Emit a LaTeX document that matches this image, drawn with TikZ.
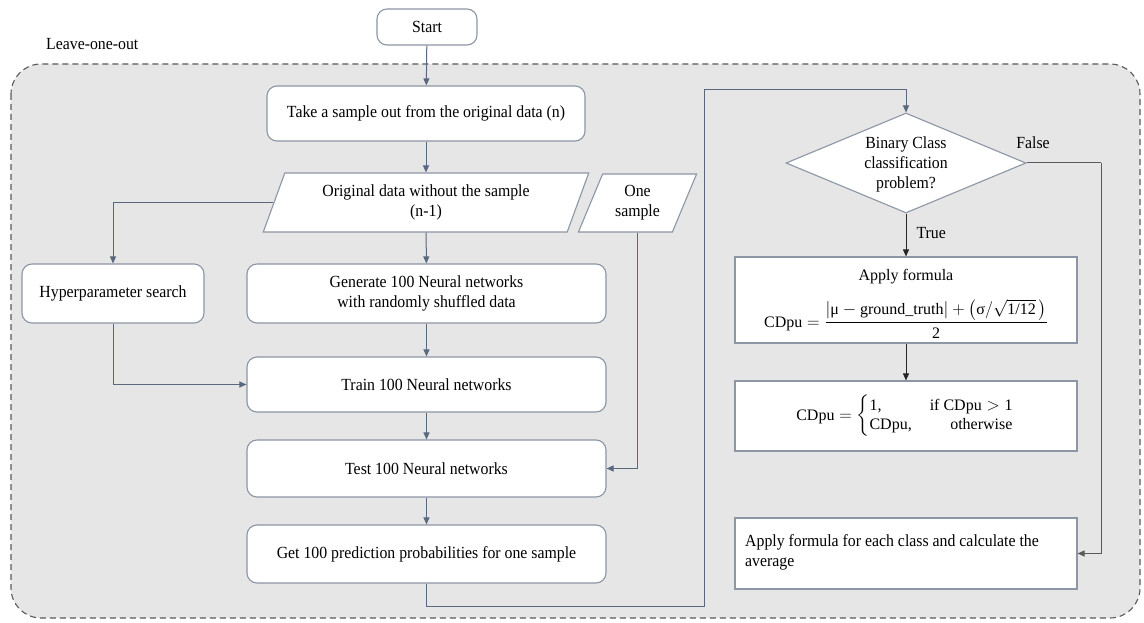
\documentclass[tikz,border=0pt]{standalone}
\usepackage{fontspec}
\usepackage{amsmath}
\setmainfont{Liberation Serif}[FakeStretch=0.93]
\newfontfamily\camfont{Liberation Serif}
\usetikzlibrary{shapes.geometric,arrows.meta}
\definecolor{bgc}{HTML}{E6E6E6}
\definecolor{bord}{HTML}{8C96A4}
\definecolor{conn}{HTML}{5A687E}
\definecolor{dashc}{HTML}{5A5A5A}
\begin{document}
\begin{tikzpicture}[x=1pt,y=-1pt,
  every node/.style={font=\fontsize{17}{20}\selectfont, inner sep=0pt, align=center},
  rbox/.style={draw=bord, line width=1.1pt, fill=white, rounded corners=10pt},
  sbox/.style={draw=bord, line width=1.1pt, fill=white},
  para/.style={draw=bord, line width=1.1pt, fill=white, trapezium, trapezium left angle=66, trapezium right angle=114, trapezium stretches=true},
  arr/.style={draw=conn, line width=1pt, -{Triangle[length=7pt,width=6pt]}},
  arrk/.style={draw=black!85, line width=1pt, -{Triangle[length=7pt,width=6pt]}},
  ff/.style={font=\camfont\fontsize{16}{19}\selectfont}]
\fill[white] (0,0) rectangle (1144,623);
\useasboundingbox (0,0) rectangle (1144,623);
% container
\draw[draw=dashc, dash pattern=on 6pt off 4pt, line width=1.1pt, fill=bgc, rounded corners=30pt] (11,64) rectangle (1140,618);
\node[anchor=west] (loo) at (46,44) {Leave-one-out};
% left column
\node[rbox, minimum width=100pt, minimum height=36pt] (start) at (427,27) {Start};
\node[rbox, minimum width=318pt, minimum height=55pt] (take) at (426,113.5) {Take a sample out from the original data (n)};
\node[para, minimum width=326pt, minimum height=59pt] (orig) at (426,202.5) {Original data without the sample\\(n-1)};
\node[para, minimum width=119pt, minimum height=58pt] (one) at (637.5,203) {One\\sample};
\node[rbox, minimum width=182pt, minimum height=59pt] (hyp) at (113,293.5) {Hyperparameter search};
\node[rbox, minimum width=359pt, minimum height=59pt] (gen) at (426.5,293.5) {Generate 100 Neural networks\\with randomly shuffled data};
\node[rbox, minimum width=359pt, minimum height=55pt] (train) at (426.5,384.5) {Train 100 Neural networks};
\node[rbox, minimum width=359pt, minimum height=57pt] (test) at (426.5,468.5) {Test 100 Neural networks};
\node[rbox, minimum width=359pt, minimum height=58pt] (get) at (426.5,554) {Get 100 prediction probabilities for one sample};
% right column
\node[diamond, draw=bord, line width=1.1pt, fill=white, minimum width=240pt, minimum height=100pt, aspect=2.4] (dia) at (906,163) {};
\node (diat) at (906,164) {Binary Class\\classification\\problem?};
\node[sbox, minimum width=342pt, minimum height=86pt] (f1) at (906,300) {};
\node[ff] (f1t) at (906,277) {Apply formula};
\node[ff] (f1f) at (906,319) {$\text{CDpu} = \dfrac{|\text{μ} - \text{ground\_truth}| + \big(\text{σ}/\sqrt{\text{1/12}}\,\big)}{\text{2}}$};
\node[sbox, minimum width=342pt, minimum height=70pt] (f2) at (906,416) {};
\node[ff] (f2f) at (905,416) {$\text{CDpu} = \left\{\begin{array}{@{}l@{\hspace{18pt}}r@{}}\text{1,} & \text{if CDpu} > \text{1}\\ \text{CDpu,} & \text{otherwise}\end{array}\right.$};
\node[sbox, minimum width=342pt, minimum height=71pt] (avg) at (906,553.5) {};
\node[anchor=north west, align=left] (avgt) at (745,534) {Apply formula for each class and calculate the\\average};
% coordinates
\coordinate (c1) at (704,606);
\coordinate (c2) at (704,90);
\coordinate (c3) at (1101,163);
% connectors
\draw[arr] (start) -- (take);
\draw[arr] (take) -- (orig);
\draw[arr] (orig) -- (gen);
\draw[arr] (orig.west) -| (hyp.north);
\draw[arr] (hyp.south) |- (train.west);
\draw[arr] (gen) -- (train);
\draw[arr] (train) -- (test);
\draw[arr] (test) -- (get);
\draw[arr] (one.south) |- (test.east);
\draw[arr] (get.south) |- (c1) -- (c2) -| (dia.north);
\draw[arrk] (dia.south) -- node[pos=0.45, right=10pt] (tru) {True} (f1.north);
\draw[arrk] (f1.south) -- (f2.north);
\draw[draw=dashc, line width=1pt] (dia.east) -- (c3);
\draw[arrk, draw=dashc] (c3) |- (avg.east);
\node (fal) at (1033,143) {False};
\end{tikzpicture}
\end{document}
